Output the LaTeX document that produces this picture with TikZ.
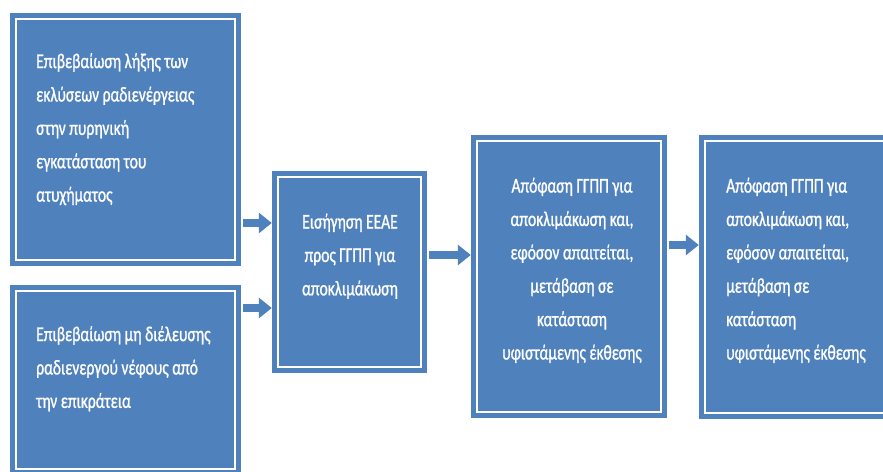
\documentclass[tikz,border=0pt]{standalone}
\usepackage{fontspec}
\setmainfont{Carlito}[FakeStretch=0.74, FakeBold=1]
\usetikzlibrary{arrows.meta}
\definecolor{boxblue}{RGB}{79,129,189}

\begin{document}
\begin{tikzpicture}[x=0.3mm,y=-0.3mm]
            \tikzstyle{box}=[rectangle, fill=boxblue, inner sep=0pt,
            path picture={\draw[white, line width=0.6mm]
            ([shift={(1.7mm,1.7mm)}]path picture bounding box.south west) rectangle
            ([shift={(-1.7mm,-1.7mm)}]path picture bounding box.north east);}]
            \tikzstyle{txt}=[text=white, inner sep=0pt,
            font=\fontsize{18}{28.5}\selectfont]
            \tikzstyle{arr}=[draw=boxblue, line width=2.4mm, shorten <=0.6mm,
            -{Triangle[length=3.9mm, width=6mm]}]
            \useasboundingbox (0,0) rectangle (883,472);
            \foreach \n/\x/\y/\w/\h in {b1/125.5/139.5/231/253, b2/125.5/380/231/190,
              b3/349.5/272/155/202, b4/569/276.5/196/283, b5/797/277/196/284}
            \node[box, minimum width=\w*0.3mm, minimum height=\h*0.3mm] (\n) at (\x,\y) {};

            \node[txt, align=left, anchor=north west] (t1) at (36,53)
              {Επιβεβαίωση λήξης των\\εκλύσεων ραδιενέργειας\\στην πυρηνική\\εγκατάσταση του\\ατυχήματος};
            \node[txt, align=left, anchor=north west] (t2) at (36,326)
              {Επιβεβαίωση μη διέλευσης\\ραδιενεργού νέφους από\\την επικράτεια};
            \node[txt, align=center, anchor=north] (t3) at (350,213.5)
              {Εισήγηση ΕΕΑΕ\\προς ΓΓΠΠ για\\αποκλιμάκωση};
            \node[txt, align=center, anchor=north] (t4) at (572,177.5)
              {Απόφαση ΓΓΠΠ για\\αποκλιμάκωση και,\\εφόσον απαιτείται,\\μετάβαση σε\\κατάσταση\\υφιστάμενης έκθεσης};
            \node[txt, align=left, anchor=north west] (t5) at (726,177.5)
              {Απόφαση ΓΓΠΠ για\\αποκλιμάκωση και,\\εφόσον απαιτείται,\\μετάβαση σε\\κατάσταση\\υφιστάμενης έκθεσης};

            \path (b3.west) ++(0,-49) coordinate (a1);
            \path (b3.west) ++(0,36) coordinate (a2);
            \path (b4.west) ++(0,-21.5) coordinate (a3);
            \path (b5.west) ++(0,-32) coordinate (a4);
            \draw[arr] (b1.east |- a1) -- (a1);
            \draw[arr] (b2.east |- a2) -- (a2);
            \draw[arr] (b3.east |- a3) -- (a3);
            \draw[arr] (b4.east |- a4) -- (a4);
        \end{tikzpicture}
\end{document}
